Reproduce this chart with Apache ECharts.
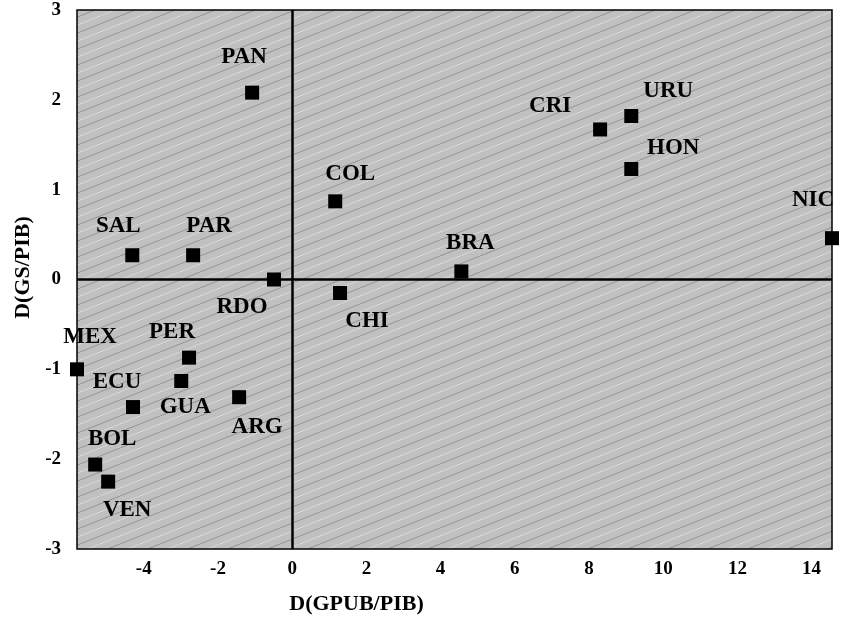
<!DOCTYPE html>
<html>
<head>
<meta charset="utf-8">
<script src="https://cdn.jsdelivr.net/npm/echarts@6/dist/echarts.min.js"></script>
<style>
html,body{margin:0;padding:0;background:#fff;}
#c{width:844px;height:625px;}
</style>
</head>
<body>
<div id="c"></div>
<script>
// ---- data ----
var countries = ['PAN','SAL','PAR','RDO','MEX','PER','GUA','ECU','ARG','BOL','VEN','CRI','URU','HON','NIC','COL','BRA','CHI'];
var dGpubPib  = [-1.08,-4.31,-2.67,-0.49,-5.80,-2.78,-2.99,-4.29,-1.43,-5.31,-4.96, 8.30, 9.14, 9.14,14.55, 1.16, 4.56, 1.29];
var dGsPib    = [ 2.08, 0.27, 0.27, 0.00,-1.00,-0.87,-1.13,-1.42,-1.31,-2.06,-2.25, 1.67, 1.82, 1.23, 0.46, 0.87, 0.09,-0.15];
var xTicks = [-4,-2,0,2,4,6,8,10,12,14];
var yTicks = [-3,-2,-1,0,1,2,3];

// ---- label placement (style) ----
var labelOffsets = {
  PAN:[-8,-36], SAL:[-14,-29], PAR:[16,-29], RDO:[-32,28], MEX:[13,-32],
  PER:[-17,-26], GUA:[4,26], ECU:[-16,-25], ARG:[18,30], BOL:[17,-25],
  VEN:[19,28], CRI:[-50,-23], URU:[37,-25], HON:[42,-21], NIC:[-19,-38],
  COL:[15,-27], BRA:[9,-28], CHI:[27,28]
};

// ---- seamless texture for plot background ----
function makeTexture(){
  var w = 40, h = 16;
  var cv = document.createElement('canvas');
  cv.width = w; cv.height = h;
  var g = cv.getContext('2d');
  g.fillStyle = '#c0c0c0';
  g.fillRect(0,0,w,h);
  g.lineWidth = 1;
  g.strokeStyle = 'rgba(80,80,80,0.4)';
  g.beginPath(); g.moveTo(0,h); g.lineTo(w,0); g.stroke();
  g.strokeStyle = 'rgba(245,245,245,0.45)';
  g.beginPath(); g.moveTo(0,h/2); g.lineTo(w/2,0); g.stroke();
  g.beginPath(); g.moveTo(w/2,h); g.lineTo(w,h/2); g.stroke();
  return cv;
}

var serif = '"Liberation Serif", "Times New Roman", serif';
var data = countries.map(function(c, i){
  return { name: c, value: [dGpubPib[i], dGsPib[i]] };
});

var chart = echarts.init(document.getElementById('c'), null, {renderer:'canvas'});
chart.setOption({
  animation: false,
  backgroundColor: '#ffffff',
  grid: {
    left: 77, right: 12, top: 10, bottom: 76,
    show: true,
    backgroundColor: { image: makeTexture(), repeat: 'repeat' },
    borderColor: '#000', borderWidth: 1.5
  },
  xAxis: {
    type: 'value', min: -5.8, max: 14.55,
    name: 'D(GPUB/PIB)', nameLocation: 'middle', nameGap: 44,
    nameTextStyle: { fontFamily: serif, fontWeight: 'bold', fontSize: 22, color: '#000', padding: [0,196,0,0] },
    axisLine: { show: false, onZero: false },
    axisTick: { show: false },
    splitLine: { show: false },
    axisLabel: {
      customValues: xTicks, margin: 11,
      fontFamily: serif, fontWeight: 'bold', fontSize: 19, color: '#000'
    }
  },
  yAxis: {
    type: 'value', min: -3, max: 3,
    name: 'D(GS/PIB)', nameLocation: 'middle', nameGap: 42, nameRotate: 90,
    nameTextStyle: { fontFamily: serif, fontWeight: 'bold', fontSize: 22, color: '#000', padding: [0,0,0,24] },
    axisLine: { show: false, onZero: false },
    axisTick: { show: false },
    splitLine: { show: false },
    axisLabel: {
      customValues: yTicks, margin: 16,
      fontFamily: serif, fontWeight: 'bold', fontSize: 19, color: '#000'
    }
  },
  series: [{
    type: 'scatter',
    symbol: 'rect',
    symbolSize: 14,
    itemStyle: { color: '#000', opacity: 1 },
    label: {
      show: true,
      position: 'inside',
      formatter: '{b}',
      fontFamily: serif, fontWeight: 'bold', fontSize: 23, color: '#000',
      align: 'center', verticalAlign: 'middle'
    },
    labelLayout: function (params) {
      var o = labelOffsets[countries[params.dataIndex]];
      return { dx: o[0], dy: o[1], hideOverlap: false };
    },
    data: data,
    markLine: {
      silent: true,
      symbol: 'none',
      label: { show: false },
      lineStyle: { color: '#000', width: 2.5, type: 'solid', opacity: 1 },
      data: [{ xAxis: 0 }, { yAxis: 0 }]
    },
    z: 5
  }]
});
</script>
</body>
</html>
